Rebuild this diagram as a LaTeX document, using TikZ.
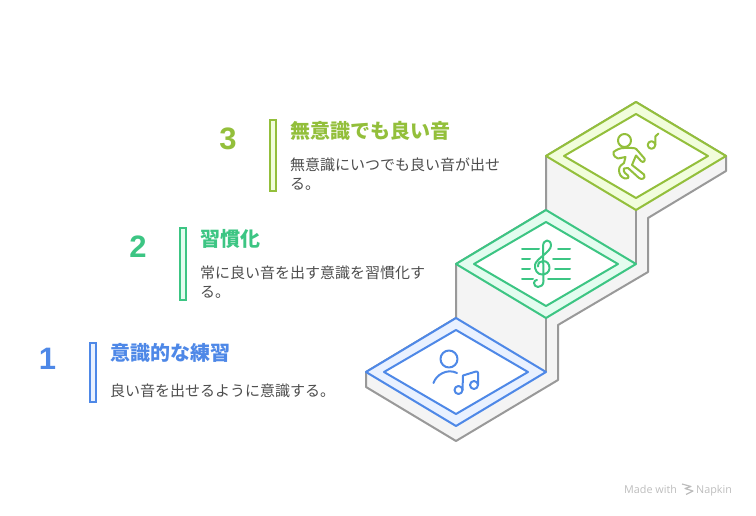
\documentclass[tikz,border=0pt]{standalone}
\usepackage{fontspec}
\setmainfont{Liberation Sans}
\newfontfamily\jpfont{Noto Sans CJK JP}
\newfontfamily\markfont{Open Sans}
\usepackage{xcolor}
\usetikzlibrary{positioning}
\definecolor{stepblue}{HTML}{4E88E7}
\definecolor{stepbluefill}{HTML}{E9F1FF}
\definecolor{stepgreen}{HTML}{3CC583}
\definecolor{stepgreenfill}{HTML}{E3FCEF}
\definecolor{stepolive}{HTML}{93BF3B}
\definecolor{stepolivefill}{HTML}{F1FDDB}
\definecolor{sidegray}{HTML}{999999}
\definecolor{sidefill}{HTML}{F4F4F4}
\definecolor{bodygray}{HTML}{4D4D4D}
\definecolor{markgray}{HTML}{BDBDBD}

\begin{document}
\begin{tikzpicture}[
    x=1pt, y=-1pt,
    side/.style={draw=sidegray, line width=2pt, fill=sidefill, line join=round},
    plate/.style={draw=#1, line width=2pt, line join=round},
    icon/.style={draw=#1, line width=2pt, line cap=round, line join=round},
    sidebar/.style={rectangle, draw=#1, line width=2pt, minimum width=6pt, inner sep=0pt},
    number/.style={font=\fontsize{31}{31}\selectfont\bfseries, text=#1, inner sep=0pt},
    heading/.style={font=\jpfont\fontsize{20}{20}\selectfont\bfseries, text=#1, inner sep=0pt, anchor=west},
    bodytext/.style={font=\jpfont\fontsize{15}{19}\selectfont, text=bodygray, inner sep=0pt, align=left, anchor=north west},
    wmark/.style={font=\markfont\fontsize{10.8}{12}\selectfont, text=markgray, inner sep=0pt, anchor=base west}
]
\useasboundingbox (0,0) rectangle (756,516);

% Staircase sides
\draw[side] (366,372) -- (366,387) -- (456,441) -- (558,380) -- (558,325) -- (648,272)
    -- (648,218) -- (726,171) -- (726,156) -- (636,102) -- (546,156) -- (546,210)
    -- (456,264) -- (456,318) -- cycle;
\draw[side] (636,210) -- (636,264);
\draw[side] (546,318) -- (546,372);

% Step 1 plate
\draw[plate=stepblue, fill=stepbluefill] (366,372) -- (456,318) -- (546,372) -- (456,426) -- cycle;
\draw[plate=stepblue, fill=white] (384,372) -- (456,330) -- (528,372) -- (456,414) -- cycle;

% Step 2 plate
\draw[plate=stepgreen, fill=stepgreenfill] (456,264) -- (546,210) -- (636,264) -- (546,318) -- cycle;
\draw[plate=stepgreen, fill=white] (474,264) -- (546,222) -- (618,264) -- (546,306) -- cycle;

% Step 3 plate
\draw[plate=stepolive, fill=stepolivefill] (546,156) -- (636,102) -- (726,156) -- (636,210) -- cycle;
\draw[plate=stepolive, fill=white] (564,156) -- (636,114) -- (708,156) -- (636,198) -- cycle;

% Listener icon
\draw[icon=stepblue] (449,359) circle (8.5);
\draw[icon=stepblue] (433.5,383) .. controls (436,375) and (447,368) .. (457,373);
\draw[icon=stepblue] (458.5,390) circle (4);
\draw[icon=stepblue] (474,385) circle (4);
\draw[icon=stepblue] (462.5,390) -- (463,375.5) -- (476,371.5) .. controls (477.5,371.5) and (478,372) .. (478,373) -- (478,385);

% Clef icon
\foreach \xa/\xb/\ya in {522/539/249, 522/530/259, 522/530/269, 522/533/279,
                         558/570/249, 553/570/259, 555/570/269, 548/570/279}
    \draw[icon=stepgreen] (\xa,\ya) -- (\xb,\ya);
\draw[icon=stepgreen] (538,266.5) .. controls (538,263) and (540,261) .. (543,261)
    .. controls (547,261) and (549.5,264) .. (549.5,268)
    .. controls (549.5,272) and (546,274.5) .. (542,274.5)
    .. controls (537.5,274.5) and (534.5,270) .. (535,265)
    .. controls (535.5,259) and (551,252) .. (551,245.5)
    .. controls (551,242) and (549,240.5) .. (547,240.5)
    .. controls (544.5,240.5) and (543,243) .. (543,247)
    -- (543.5,281)
    .. controls (543.5,285) and (541,287) .. (538,287)
    .. controls (535.5,287) and (534,285) .. (534,283)
    .. controls (534,281) and (535.5,280) .. (537,280);

% Dancer icon
\draw[icon=stepolive] (624.5,140.5) circle (6.5);
\draw[icon=stepolive] (613.5,152) .. controls (617,149.5) and (620,148) .. (624,148)
    -- (632,148) .. controls (636,148) and (637,149.5) .. (638,151)
    -- (644.5,158.5) .. controls (645.5,161.5) and (643,163) .. (641,161)
    -- (636,155.5) -- (632,165) -- (644,174.5)
    .. controls (646,178) and (642,180.5) .. (639,178)
    -- (628,168) -- (624,168.5) .. controls (623,170) and (624,172) .. (625,173)
    -- (628,175.5) .. controls (629.5,178) and (627,179) .. (625,178.5)
    .. controls (621,177.5) and (619,174) .. (619,170)
    .. controls (619,166) and (622,164.5) .. (624,163)
    -- (625.5,157) -- (618,158.5) .. controls (616,158) and (613,156) .. (613.5,152) -- cycle;
\draw[icon=stepolive] (651.5,145) circle (3.8);
\draw[icon=stepolive] (655.3,145) -- (655.3,136.5) -- (658.5,133.5);

% Step 3 text
\node[sidebar=stepolive, fill=stepolivefill, minimum height=71pt] (bar3) at (273,156) {};
\node[number=stepolive] (num3) at (228,138.5) {3};
\node[heading=stepolive] (title3) at (290,131) {無意識でも良い音};
\node[bodytext] (body3) at (290,158) {無意識にいつでも良い音が出せ\\る。};

% Step 2 text
\node[sidebar=stepgreen, fill=stepgreenfill, minimum height=71pt] (bar2) at (183,264) {};
\node[number=stepgreen] (num2) at (138,247) {2};
\node[heading=stepgreen] (title2) at (200,239) {習慣化};
\node[bodytext] (body2) at (200,266) {常に良い音を出す意識を習慣化す\\る。};

% Step 1 text
\node[sidebar=stepblue, fill=stepbluefill, minimum height=59pt] (bar1) at (93,372) {};
\node[number=stepblue] (num1) at (47.5,359) {1};
\node[heading=stepblue] (title1) at (110,353) {意識的な練習};
\node[bodytext] (body1) at (110,384) {良い音を出せるように意識する。};

% Watermark
\node[wmark] (madewith) at (624,493) {Made with};
\node[wmark] (napkin) at (696,493) {Napkin};
\draw[markgray, line width=1.2pt, line join=round] (682,484) -- (691,486.5) -- (685,488.5) -- (693,491) -- (686,494.5);
\end{tikzpicture}
\end{document}
